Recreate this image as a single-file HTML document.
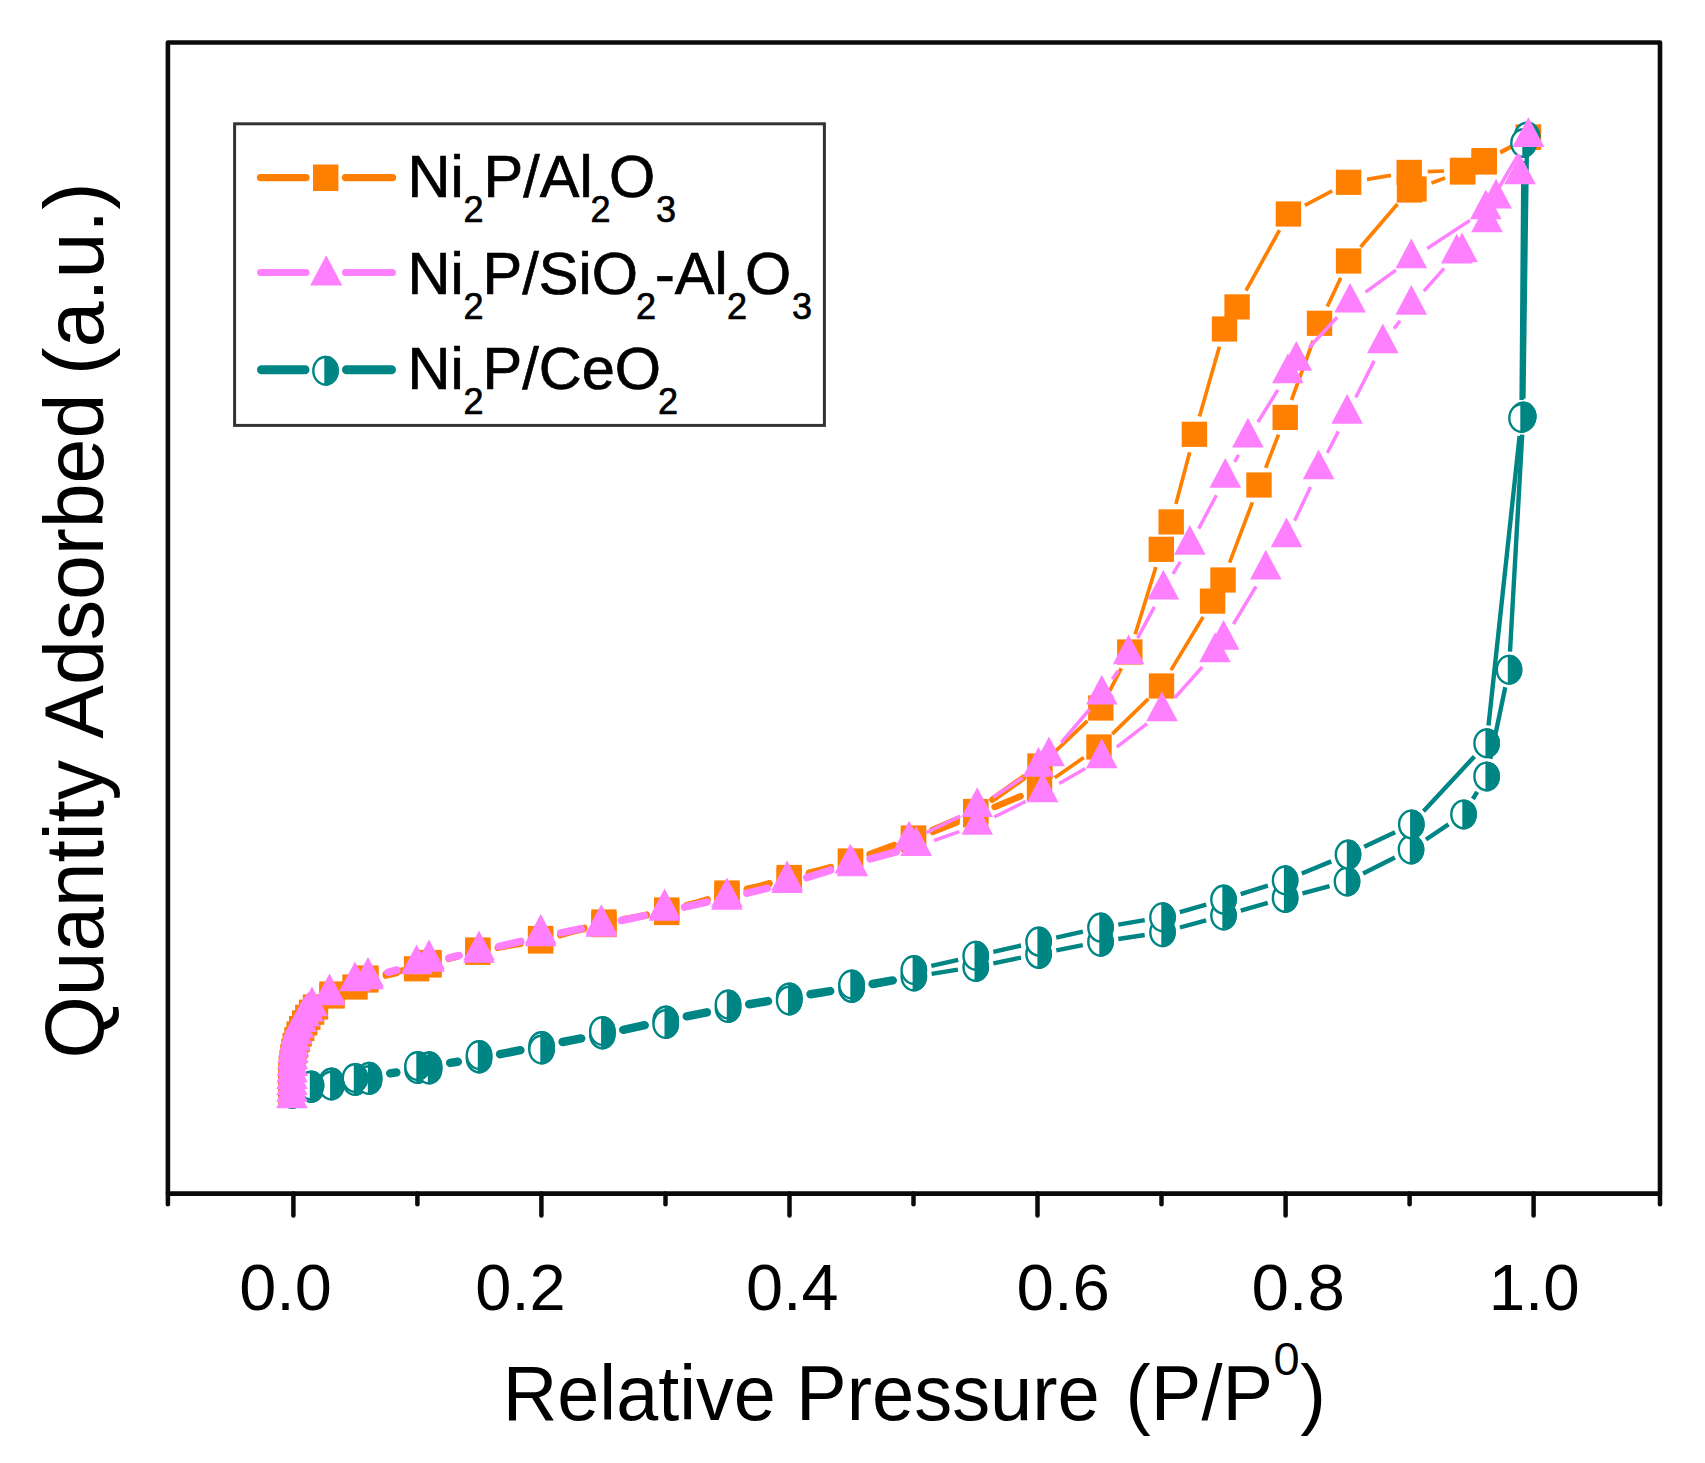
<!DOCTYPE html>
<html lang="en">
<head>
<meta charset="utf-8">
<title>N2 adsorption-desorption isotherms</title>
<style>
html,body{margin:0;padding:0;background:#fff;}
body{width:1705px;height:1463px;overflow:hidden;}
svg{display:block;}
text{font-family:"Liberation Sans",sans-serif;fill:#000;}
</style>
</head>
<body>
<svg width="1705" height="1463" viewBox="0 0 1705 1463">
<defs>
<rect id="sq" x="-12.7" y="-12.6" width="25.4" height="25.2" fill="#FF8000"/>
<path id="tr" d="M0 -20.4L15.8 9.3L-15.8 9.3Z" fill="#FF80FF"/>
<g id="ci">
<ellipse cx="0" cy="0" rx="12.2" ry="13.8" fill="#fff" stroke="#008585" stroke-width="2.4"/>
<path d="M0 -13.8A12.2 13.8 0 0 1 0 13.8Z" fill="#008585" stroke="#008585" stroke-width="2.4"/>
</g>
</defs>
<rect x="0" y="0" width="1705" height="1463" fill="#fff"/>

<!-- series 1 : orange squares -->
<g id="s-orange">
<path d="M1054.7 777.8L1083.8 757.6M1112.2 734.1L1148.3 698.9M1171.0 670.1L1203.1 617.0M1229.6 562.7L1252.4 502.3M1265.7 467.8L1278.5 434.6M1291.5 400.0L1313.2 340.7M1327.3 306.5L1340.8 277.8M1360.6 247.0L1397.5 204.0M1431.5 182.9L1445.1 178.1M1500.3 152.9L1512.3 146.3" fill="none" stroke="#FF8000" stroke-width="3.7"/>
<path d="M385.8 975.6L396.6 973.2M449.1 958.3L457.7 956.5M497.8 947.9L520.6 942.9M560.6 934.1L583.9 929.0M623.9 920.0L646.7 914.6M686.6 905.2L707.1 900.3M746.7 889.8L769.5 883.2M809.1 872.6L830.6 867.4M869.8 855.5L894.2 846.5M932.6 831.9L956.6 822.4M994.6 807.0L1020.6 796.2" fill="none" stroke="#FF8000" stroke-width="6.5" stroke-linecap="round"/>
<path d="M1512.0 145.9L1500.6 151.9M1444.1 171.0L1427.7 171.7M1390.9 175.4L1366.9 179.3M1332.2 190.9L1304.8 205.4M1279.5 230.2L1246.0 290.7M1219.4 346.8L1199.5 416.5M1189.7 452.2L1175.9 504.0M1155.9 567.0L1135.2 634.3M1121.3 668.4L1109.3 691.6M1087.4 720.8L1053.4 753.2" fill="none" stroke="#FF8000" stroke-width="3.7"/>
<path d="M1023.3 777.8L992.4 799.7M956.8 819.5L932.4 830.0M894.2 845.0L869.8 854.0M830.9 867.1L808.8 873.9M769.1 884.2L747.1 888.8M707.5 899.3L686.2 906.2M646.4 915.6L624.2 918.9M584.3 927.9L560.2 935.1M520.3 943.9L498.1 947.1M458.2 956.0L448.6 959.0M408.9 969.1L385.9 973.9" fill="none" stroke="#FF8000" stroke-width="6.5" stroke-linecap="round"/>
<use href="#sq" x="291.0" y="1094.5"/>
<use href="#sq" x="291.0" y="1088.1"/>
<use href="#sq" x="291.0" y="1081.6"/>
<use href="#sq" x="291.0" y="1075.2"/>
<use href="#sq" x="291.3" y="1068.9"/>
<use href="#sq" x="292.0" y="1063.0"/>
<use href="#sq" x="292.8" y="1057.1"/>
<use href="#sq" x="293.9" y="1051.3"/>
<use href="#sq" x="295.2" y="1045.5"/>
<use href="#sq" x="297.0" y="1039.7"/>
<use href="#sq" x="299.1" y="1034.0"/>
<use href="#sq" x="301.7" y="1028.5"/>
<use href="#sq" x="304.7" y="1022.9"/>
<use href="#sq" x="307.8" y="1017.3"/>
<use href="#sq" x="311.6" y="1012.2"/>
<use href="#sq" x="315.5" y="1007.0"/>
<use href="#sq" x="332.0" y="994.0"/>
<use href="#sq" x="355.0" y="987.0"/>
<use href="#sq" x="365.8" y="980.0"/>
<use href="#sq" x="416.6" y="968.8"/>
<use href="#sq" x="429.0" y="962.5"/>
<use href="#sq" x="477.8" y="952.3"/>
<use href="#sq" x="540.6" y="938.5"/>
<use href="#sq" x="603.9" y="924.6"/>
<use href="#sq" x="666.7" y="910.0"/>
<use href="#sq" x="727.0" y="895.5"/>
<use href="#sq" x="789.2" y="877.5"/>
<use href="#sq" x="850.5" y="862.5"/>
<use href="#sq" x="913.5" y="839.5"/>
<use href="#sq" x="975.7" y="814.8"/>
<use href="#sq" x="1039.5" y="788.4"/>
<use href="#sq" x="1099.0" y="747.0"/>
<use href="#sq" x="1161.5" y="686.0"/>
<use href="#sq" x="1212.6" y="601.1"/>
<use href="#sq" x="1223.0" y="580.0"/>
<use href="#sq" x="1259.0" y="485.0"/>
<use href="#sq" x="1285.2" y="417.4"/>
<use href="#sq" x="1319.5" y="323.3"/>
<use href="#sq" x="1348.6" y="261.0"/>
<use href="#sq" x="1409.5" y="190.0"/>
<use href="#sq" x="1414.0" y="189.0"/>
<use href="#sq" x="1462.6" y="172.0"/>
<use href="#sq" x="1484.2" y="162.0"/>
<use href="#sq" x="1528.4" y="137.2"/>
<use href="#sq" x="1528.4" y="137.2"/>
<use href="#sq" x="1484.2" y="160.6"/>
<use href="#sq" x="1462.6" y="170.3"/>
<use href="#sq" x="1409.2" y="172.4"/>
<use href="#sq" x="1348.6" y="182.3"/>
<use href="#sq" x="1288.4" y="214.0"/>
<use href="#sq" x="1237.1" y="306.9"/>
<use href="#sq" x="1224.5" y="329.0"/>
<use href="#sq" x="1194.4" y="434.3"/>
<use href="#sq" x="1171.2" y="521.9"/>
<use href="#sq" x="1161.3" y="549.3"/>
<use href="#sq" x="1129.8" y="652.0"/>
<use href="#sq" x="1100.8" y="708.0"/>
<use href="#sq" x="1040.0" y="766.0"/>
<use href="#sq" x="975.7" y="811.5"/>
<use href="#sq" x="913.5" y="838.0"/>
<use href="#sq" x="850.5" y="861.0"/>
<use href="#sq" x="789.2" y="880.0"/>
<use href="#sq" x="727.0" y="893.0"/>
<use href="#sq" x="666.7" y="912.5"/>
<use href="#sq" x="603.9" y="922.0"/>
<use href="#sq" x="540.6" y="941.0"/>
<use href="#sq" x="477.8" y="950.0"/>
<use href="#sq" x="429.0" y="965.0"/>
<use href="#sq" x="365.8" y="978.0"/>
<use href="#sq" x="332.0" y="996.0"/>
</g>

<!-- series 3 : teal half-filled circles -->
<g id="s-teal">
<path d="M931.6 973.8L957.9 969.7M993.3 963.3L1021.0 957.6M1056.3 950.4L1082.8 945.2M1118.3 939.0L1144.7 935.0M1179.9 927.5L1206.1 920.3M1240.8 910.6L1267.8 902.8M1302.5 893.3L1329.6 886.1M1363.1 873.5L1394.9 857.5M1426.0 839.5L1448.5 824.4M1472.9 799.0L1477.2 791.8M1490.3 758.8L1505.3 687.3M1510.0 651.7L1522.2 434.6M1523.4 398.6L1526.8 154.5" fill="none" stroke="#008585" stroke-width="4.4"/>
<path d="M390.2 1073.4L396.3 1072.4M450.2 1062.9L457.8 1061.8M500.1 1054.2L520.4 1050.2M562.6 1042.0L581.2 1038.4M623.3 1029.8L644.7 1025.2M686.8 1016.3L706.9 1012.3M749.2 1004.3L768.0 1001.1M810.5 994.2L830.2 991.1M872.6 984.0L892.7 980.4" fill="none" stroke="#008585" stroke-width="8.5" stroke-linecap="round"/>
<path d="M1523.4 161.0L1521.6 400.0M1519.6 435.9L1488.5 725.4M1474.4 756.5L1423.5 811.2M1395.1 832.2L1364.2 846.8M1331.3 861.4L1301.8 873.5M1267.9 885.7L1240.7 894.2M1206.2 904.6L1179.8 912.2M1144.7 920.2L1118.3 924.6M1082.9 931.6L1056.2 937.6M1021.0 945.5L993.3 951.8M958.2 959.8L931.3 965.9" fill="none" stroke="#008585" stroke-width="4.4"/>
<use href="#ci" x="292.0" y="1094.0"/>
<use href="#ci" x="311.0" y="1088.0"/>
<use href="#ci" x="331.3" y="1082.5"/>
<use href="#ci" x="355.0" y="1081.0"/>
<use href="#ci" x="369.0" y="1076.8"/>
<use href="#ci" x="417.5" y="1069.0"/>
<use href="#ci" x="429.0" y="1066.3"/>
<use href="#ci" x="479.0" y="1058.4"/>
<use href="#ci" x="541.5" y="1046.0"/>
<use href="#ci" x="602.3" y="1034.4"/>
<use href="#ci" x="665.7" y="1020.6"/>
<use href="#ci" x="728.0" y="1008.0"/>
<use href="#ci" x="789.2" y="997.4"/>
<use href="#ci" x="851.5" y="987.9"/>
<use href="#ci" x="913.8" y="976.5"/>
<use href="#ci" x="975.7" y="967.0"/>
<use href="#ci" x="1038.6" y="953.9"/>
<use href="#ci" x="1100.5" y="941.7"/>
<use href="#ci" x="1162.5" y="932.3"/>
<use href="#ci" x="1223.5" y="915.5"/>
<use href="#ci" x="1285.1" y="897.9"/>
<use href="#ci" x="1347.0" y="881.5"/>
<use href="#ci" x="1411.0" y="849.5"/>
<use href="#ci" x="1463.5" y="814.4"/>
<use href="#ci" x="1486.6" y="776.4"/>
<use href="#ci" x="1509.0" y="669.7"/>
<use href="#ci" x="1523.2" y="416.6"/>
<use href="#ci" x="1527.0" y="136.5"/>
<use href="#ci" x="1523.5" y="143.0"/>
<use href="#ci" x="1521.5" y="418.0"/>
<use href="#ci" x="1486.6" y="743.3"/>
<use href="#ci" x="1411.3" y="824.4"/>
<use href="#ci" x="1348.0" y="854.6"/>
<use href="#ci" x="1285.1" y="880.3"/>
<use href="#ci" x="1223.5" y="899.6"/>
<use href="#ci" x="1162.5" y="917.2"/>
<use href="#ci" x="1100.5" y="927.6"/>
<use href="#ci" x="1038.6" y="941.6"/>
<use href="#ci" x="975.7" y="955.7"/>
<use href="#ci" x="913.8" y="970.0"/>
<use href="#ci" x="851.5" y="984.5"/>
<use href="#ci" x="789.2" y="1000.5"/>
<use href="#ci" x="728.0" y="1004.5"/>
<use href="#ci" x="665.7" y="1024.0"/>
<use href="#ci" x="602.3" y="1031.0"/>
<use href="#ci" x="541.5" y="1049.5"/>
<use href="#ci" x="479.0" y="1055.0"/>
<use href="#ci" x="429.0" y="1069.5"/>
<use href="#ci" x="417.5" y="1066.0"/>
<use href="#ci" x="369.0" y="1080.0"/>
<use href="#ci" x="355.0" y="1078.0"/>
<use href="#ci" x="331.3" y="1085.5"/>
<use href="#ci" x="311.0" y="1085.5"/>
</g>

<!-- series 2 : pink triangles -->
<g id="s-pink">
<path d="M934.1 840.5L959.3 831.7M994.2 817.0L1025.7 801.4M1059.2 783.4L1085.3 768.4M1116.8 747.2L1147.0 723.7M1174.7 697.9L1202.3 667.0M1233.4 624.1L1256.0 586.5M1294.6 520.8L1310.5 487.1M1327.3 453.0L1338.4 431.4M1355.7 397.5L1374.2 360.9M1394.1 328.6L1400.0 320.7M1423.9 291.2L1444.1 268.4" fill="none" stroke="#FF80FF" stroke-width="3.5"/>
<path d="M387.9 972.3L396.7 970.0M449.0 957.9L459.0 955.5M499.0 946.4L520.7 941.4M560.8 932.9L581.2 928.7M621.4 920.5L644.5 915.7M684.6 907.1L706.9 902.2M746.9 893.1L767.1 888.3M806.7 877.6L830.7 870.1M870.1 858.9L896.4 851.9" fill="none" stroke="#FF80FF" stroke-width="7.5" stroke-linecap="round"/>
<path d="M1518.7 154.2L1495.5 193.5M1469.9 220.4L1427.2 248.5M1395.9 270.1L1365.5 292.2M1337.2 317.2L1309.2 347.5M1277.8 390.0L1257.9 422.1M1238.6 454.8L1234.6 461.8M1216.4 495.2L1198.7 528.6M1180.2 561.8L1173.0 573.8M1154.4 606.9L1137.6 638.2M1118.1 670.7L1112.3 679.3M1089.5 709.5L1061.3 742.5M1022.6 777.8L993.1 797.3M960.2 816.1L926.1 832.8" fill="none" stroke="#FF80FF" stroke-width="3.5"/>
<use href="#tr" x="292.0" y="1098.9"/>
<use href="#tr" x="292.0" y="1092.5"/>
<use href="#tr" x="292.0" y="1086.0"/>
<use href="#tr" x="292.0" y="1079.6"/>
<use href="#tr" x="292.1" y="1073.1"/>
<use href="#tr" x="292.3" y="1066.7"/>
<use href="#tr" x="292.5" y="1060.2"/>
<use href="#tr" x="293.0" y="1053.8"/>
<use href="#tr" x="293.7" y="1047.4"/>
<use href="#tr" x="295.0" y="1041.1"/>
<use href="#tr" x="296.5" y="1034.8"/>
<use href="#tr" x="298.5" y="1028.7"/>
<use href="#tr" x="301.2" y="1022.8"/>
<use href="#tr" x="304.3" y="1017.2"/>
<use href="#tr" x="308.1" y="1012.1"/>
<use href="#tr" x="312.0" y="1006.9"/>
<use href="#tr" x="329.5" y="995.9"/>
<use href="#tr" x="355.0" y="981.9"/>
<use href="#tr" x="368.0" y="977.4"/>
<use href="#tr" x="416.6" y="964.9"/>
<use href="#tr" x="429.0" y="962.5"/>
<use href="#tr" x="479.0" y="950.9"/>
<use href="#tr" x="540.7" y="936.9"/>
<use href="#tr" x="601.3" y="924.7"/>
<use href="#tr" x="664.6" y="911.5"/>
<use href="#tr" x="726.9" y="897.8"/>
<use href="#tr" x="787.1" y="883.6"/>
<use href="#tr" x="850.3" y="864.1"/>
<use href="#tr" x="916.2" y="846.7"/>
<use href="#tr" x="977.2" y="825.5"/>
<use href="#tr" x="1042.7" y="792.9"/>
<use href="#tr" x="1101.8" y="758.9"/>
<use href="#tr" x="1162.0" y="712.0"/>
<use href="#tr" x="1215.0" y="652.9"/>
<use href="#tr" x="1223.6" y="640.4"/>
<use href="#tr" x="1265.8" y="570.2"/>
<use href="#tr" x="1286.5" y="538.0"/>
<use href="#tr" x="1318.6" y="469.9"/>
<use href="#tr" x="1347.1" y="414.5"/>
<use href="#tr" x="1382.8" y="343.9"/>
<use href="#tr" x="1411.3" y="305.4"/>
<use href="#tr" x="1456.7" y="254.2"/>
<use href="#tr" x="1462.0" y="252.9"/>
<use href="#tr" x="1487.0" y="222.9"/>
<use href="#tr" x="1496.1" y="199.1"/>
<use href="#tr" x="1520.0" y="174.9"/>
<use href="#tr" x="1528.4" y="137.8"/>
<use href="#tr" x="1528.4" y="137.8"/>
<use href="#tr" x="1485.8" y="209.9"/>
<use href="#tr" x="1411.3" y="259.0"/>
<use href="#tr" x="1350.1" y="303.3"/>
<use href="#tr" x="1296.3" y="361.4"/>
<use href="#tr" x="1287.8" y="373.9"/>
<use href="#tr" x="1247.9" y="438.2"/>
<use href="#tr" x="1225.3" y="478.4"/>
<use href="#tr" x="1189.8" y="545.4"/>
<use href="#tr" x="1163.4" y="590.2"/>
<use href="#tr" x="1128.6" y="654.9"/>
<use href="#tr" x="1101.8" y="695.1"/>
<use href="#tr" x="1049.0" y="756.9"/>
<use href="#tr" x="1038.5" y="767.4"/>
<use href="#tr" x="977.2" y="807.7"/>
<use href="#tr" x="909.1" y="841.2"/>
<use href="#tr" x="852.5" y="866.9"/>
<use href="#tr" x="787.1" y="880.9"/>
<use href="#tr" x="726.9" y="900.4"/>
<use href="#tr" x="664.6" y="908.9"/>
<use href="#tr" x="601.3" y="927.4"/>
<use href="#tr" x="540.7" y="934.4"/>
<use href="#tr" x="479.0" y="953.4"/>
<use href="#tr" x="429.0" y="959.9"/>
<use href="#tr" x="368.0" y="979.9"/>
<use href="#tr" x="329.5" y="993.9"/>
</g>

<!-- frame + ticks -->
<g stroke="#0a0a0a" stroke-width="4.5" fill="none" stroke-linecap="round">
<rect x="167.9" y="42.5" width="1492.1" height="1151.1" stroke-width="4.6" stroke-linejoin="round"/>
<line x1="293.4" y1="1193.6" x2="293.4" y2="1215.6"/>
<line x1="417.4" y1="1193.6" x2="417.4" y2="1204.2"/>
<line x1="541.4" y1="1193.6" x2="541.4" y2="1215.6"/>
<line x1="665.5" y1="1193.6" x2="665.5" y2="1204.2"/>
<line x1="789.5" y1="1193.6" x2="789.5" y2="1215.6"/>
<line x1="913.5" y1="1193.6" x2="913.5" y2="1204.2"/>
<line x1="1037.5" y1="1193.6" x2="1037.5" y2="1215.6"/>
<line x1="1161.5" y1="1193.6" x2="1161.5" y2="1204.2"/>
<line x1="1285.6" y1="1193.6" x2="1285.6" y2="1215.6"/>
<line x1="1409.6" y1="1193.6" x2="1409.6" y2="1204.2"/>
<line x1="1533.6" y1="1193.6" x2="1533.6" y2="1215.6"/>
<line x1="167.9" y1="1193.6" x2="167.9" y2="1204.2"/>
<line x1="1660.0" y1="1193.6" x2="1660.0" y2="1204.2"/>
</g>

<!-- tick labels -->
<g>
<text x="239.2" y="1309.9" font-size="65.2" textLength="92.7" lengthAdjust="spacingAndGlyphs">0.0</text>
<text x="475.3" y="1309.9" font-size="65.2" textLength="90.3" lengthAdjust="spacingAndGlyphs">0.2</text>
<text x="746.0" y="1309.9" font-size="65.2" textLength="92.7" lengthAdjust="spacingAndGlyphs">0.4</text>
<text x="1016.5" y="1309.9" font-size="65.2" textLength="93.5" lengthAdjust="spacingAndGlyphs">0.6</text>
<text x="1251.4" y="1309.9" font-size="65.2" textLength="93.6" lengthAdjust="spacingAndGlyphs">0.8</text>
<text x="1488.7" y="1309.9" font-size="65.2" textLength="91.0" lengthAdjust="spacingAndGlyphs">1.0</text>
</g>

<!-- axis titles -->
<text id="xt" y="1419.5" font-size="77.2"><tspan x="502.8" textLength="272.9" lengthAdjust="spacingAndGlyphs">Relative</tspan> <tspan x="796.1" textLength="303.7" lengthAdjust="spacingAndGlyphs">Pressure</tspan> <tspan x="1125.6" textLength="147.4" lengthAdjust="spacingAndGlyphs">(P/P</tspan><tspan x="1273.6" font-size="47" dy="-44.2">0</tspan><tspan x="1300.2" dy="44.2">)</tspan></text>
<text id="yt" transform="translate(103.1 1058.5) rotate(-90)" font-size="83.2"><tspan x="0" textLength="298.4" lengthAdjust="spacingAndGlyphs">Quantity</tspan> <tspan x="319.7" textLength="345.1" lengthAdjust="spacingAndGlyphs">Adsorbed</tspan> <tspan x="683.6" textLength="192.6" lengthAdjust="spacingAndGlyphs">(a.u.)</tspan></text>

<!-- legend -->
<g id="legend">
<rect x="234.6" y="123.8" width="589.8" height="301.6" fill="#fff" stroke="#333" stroke-width="3"/>
<path d="M260.5 177.6H306M345.5 177.6H392.5" stroke="#FF8000" stroke-width="7.4" stroke-linecap="round"/>
<rect x="313" y="164.5" width="25.4" height="26.5" fill="#FF8000"/>
<path d="M260.5 272.4H306M345.5 272.4H392.5" stroke="#FF80FF" stroke-width="7" stroke-linecap="round"/>
<path d="M326.2 255.2L342.3 285.6L310.1 285.6Z" fill="#FF80FF"/>
<path d="M261.5 369.8H305M346.5 369.8H391.5" stroke="#008585" stroke-width="9" stroke-linecap="round"/>
<use href="#ci" x="325.5" y="370.8"/>
<text id="l1" y="197.4" font-size="59.5" stroke="#000" stroke-width="0.7"><tspan x="407.6">Ni</tspan><tspan x="463.6" dy="24.6" font-size="36">2</tspan><tspan x="483.6" dy="-24.6">P/Al</tspan><tspan x="590.6" dy="24.6" font-size="36">2</tspan><tspan x="609" dy="-24.6">O</tspan><tspan x="656" dy="24.6" font-size="36">3</tspan></text>
<text id="l2" y="294" font-size="59.5" stroke="#000" stroke-width="0.7"><tspan x="407.6">Ni</tspan><tspan x="463.6" dy="24.6" font-size="36">2</tspan><tspan x="482.6" dy="-24.6">P/SiO</tspan><tspan x="636" dy="24.6" font-size="36">2</tspan><tspan x="655" dy="-24.6">-Al</tspan><tspan x="727" dy="24.6" font-size="36">2</tspan><tspan x="745" dy="-24.6">O</tspan><tspan x="792" dy="24.6" font-size="36">3</tspan></text>
<text id="l3" y="389" font-size="59.5" stroke="#000" stroke-width="0.7"><tspan x="407.6">Ni</tspan><tspan x="463.6" dy="24.6" font-size="36">2</tspan><tspan x="482.6" dy="-24.6">P/CeO</tspan><tspan x="658" dy="24.6" font-size="36">2</tspan></text>
</g>
</svg>
</body>
</html>
